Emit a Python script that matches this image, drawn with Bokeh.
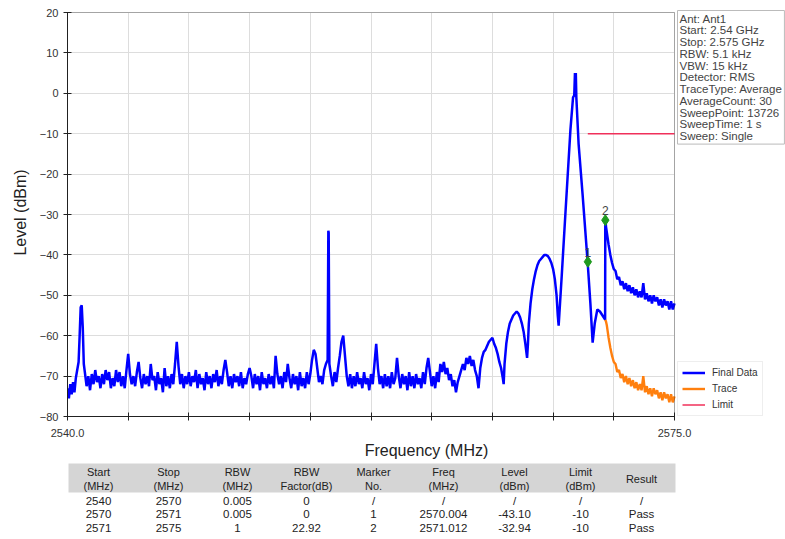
from bokeh.plotting import figure
from bokeh.models import (Range1d, FixedTicker, Legend, LegendItem, Label, PrintfTickFormatter,
                          BoxAnnotation)
from bokeh.layouts import column
from bokeh.embed import file_html
from bokeh.resources import INLINE
from bokeh.core.properties import value

# ---------------- data ----------------
final_freq = [
    2540.00, 2540.08, 2540.16, 2540.24, 2540.32, 2540.40, 2540.48, 2540.56, 2540.64, 2540.70, 2540.76, 2540.82, 2540.88, 2540.94,
    2541.0, 2541.1, 2541.2, 2541.3, 2541.4, 2541.5, 2541.6, 2541.7, 2541.8, 2541.9,
    2542.0, 2542.1, 2542.2, 2542.3, 2542.4, 2542.5, 2542.6, 2542.7, 2542.8, 2542.9,
    2543.0, 2543.1, 2543.2, 2543.3, 2543.4, 2543.5, 2543.6, 2543.7, 2543.8, 2543.9,
    2544.0, 2544.1, 2544.2, 2544.3, 2544.4, 2544.5, 2544.6, 2544.7, 2544.8, 2544.9,
    2545.0, 2545.1, 2545.2, 2545.3, 2545.4, 2545.5, 2545.6, 2545.7, 2545.8, 2545.9,
    2546.0, 2546.1, 2546.2, 2546.3, 2546.4, 2546.5, 2546.6, 2546.7, 2546.8, 2546.9,
    2547.0, 2547.1, 2547.2, 2547.3, 2547.4, 2547.5, 2547.6, 2547.7, 2547.8, 2547.9,
    2548.0, 2548.1, 2548.2, 2548.3, 2548.4, 2548.5, 2548.6, 2548.7, 2548.8, 2548.9,
    2549.0, 2549.1, 2549.2, 2549.3, 2549.4, 2549.5, 2549.6, 2549.7, 2549.8, 2549.9,
    2550.0, 2550.1, 2550.2, 2550.3, 2550.4, 2550.5, 2550.6, 2550.7, 2550.8, 2550.9,
    2551.0, 2551.1, 2551.2, 2551.3, 2551.4, 2551.5, 2551.6, 2551.7, 2551.8, 2551.9,
    2552.0, 2552.1, 2552.2, 2552.3, 2552.4, 2552.5, 2552.6, 2552.7, 2552.8, 2552.9,
    2553.0, 2553.1, 2553.2, 2553.3, 2553.4, 2553.5, 2553.6, 2553.7, 2553.8, 2553.9,
    2554.0, 2554.1, 2554.2, 2554.3, 2554.4, 2554.5, 2554.6, 2554.7, 2554.8, 2554.9,
    2555.0, 2555.04, 2555.06, 2555.1, 2555.2, 2555.3, 2555.4, 2555.5, 2555.6, 2555.7, 2555.8, 2555.9,
    2556.0, 2556.1, 2556.2, 2556.3, 2556.4, 2556.5, 2556.6, 2556.7, 2556.8, 2556.9,
    2557.0, 2557.1, 2557.2, 2557.3, 2557.4, 2557.5, 2557.6, 2557.7, 2557.8, 2557.9,
    2558.0, 2558.1, 2558.2, 2558.3, 2558.4, 2558.5, 2558.6, 2558.7, 2558.8, 2558.9,
    2559.0, 2559.1, 2559.2, 2559.3, 2559.4, 2559.5, 2559.6, 2559.7, 2559.8, 2559.9,
    2560.0, 2560.1, 2560.2, 2560.3, 2560.4, 2560.5, 2560.6, 2560.7, 2560.8, 2560.9,
    2561.0, 2561.1, 2561.2, 2561.3, 2561.4, 2561.5, 2561.6, 2561.7, 2561.8, 2561.9,
    2562.0, 2562.1, 2562.2, 2562.3, 2562.4, 2562.5, 2562.6, 2562.7, 2562.8, 2562.9,
    2563.0, 2563.1, 2563.2, 2563.3, 2563.4, 2563.5, 2563.6, 2563.7, 2563.8, 2563.9,
    2564.0, 2564.1, 2564.2, 2564.3, 2564.4, 2564.5, 2564.6, 2564.7, 2564.8, 2564.9,
    2565.0, 2565.1, 2565.15, 2565.2, 2565.3, 2565.4, 2565.5, 2565.6, 2565.7, 2565.8, 2565.9,
    2566.0, 2566.1, 2566.2, 2566.3, 2566.4, 2566.5, 2566.55, 2566.6, 2566.7, 2566.8, 2566.9,
    2567.0, 2567.1, 2567.2, 2567.3, 2567.4, 2567.5, 2567.6, 2567.7, 2567.8, 2567.9,
    2568.0, 2568.1, 2568.2, 2568.27, 2568.32, 2568.5, 2568.72, 2569.0, 2569.15, 2569.22, 2569.26, 2569.29, 2569.31, 2569.34,
    2569.47, 2569.7, 2569.99, 2570.15, 2570.28, 2570.4, 2570.55, 2570.7, 2570.85, 2571.0,
    2571.01, 2571.05, 2571.1, 2571.15, 2571.2, 2571.3, 2571.4, 2571.5, 2571.6, 2571.7, 2571.8, 2571.9,
    2572.0, 2572.1, 2572.2, 2572.3, 2572.4, 2572.5, 2572.6, 2572.7, 2572.8, 2572.9,
    2573.0, 2573.1, 2573.2, 2573.3, 2573.4, 2573.5, 2573.6, 2573.7, 2573.8, 2573.9,
    2574.0, 2574.1, 2574.2, 2574.3, 2574.4, 2574.5, 2574.6, 2574.7, 2574.8, 2574.9, 2575.0,
]
final_level = [
    -73, -75.5, -72, -74.5, -71.5, -74, -70.5, -68.5, -66.5, -60, -53, -52.5, -58, -67,
    -69, -72.5, -70, -73.5, -69.5, -72, -68.5, -71.5, -70, -73,
    -69.5, -72, -68.5, -71, -69, -73, -70.5, -72.5, -68.5, -71.5,
    -69, -72.5, -70, -73, -68.5, -64.5, -69.5, -72, -70, -72.5,
    -69, -66.5, -70.5, -73, -69.5, -72, -70, -72.5, -67, -71,
    -70, -73.5, -69, -72, -70.5, -74, -68, -72.5, -70, -73,
    -69.5, -72, -67, -61.5, -67.5, -72, -69.5, -73, -70, -72,
    -69, -72.5, -70, -71.5, -68.5, -73, -69.5, -72, -70.5, -73.5,
    -69, -72, -70, -73, -69.5, -71.5, -68.5, -72.5, -70, -72,
    -68.5, -66, -69, -72.5, -70, -73, -69.5, -71.5, -70, -72.5,
    -69, -73, -70.5, -72, -69.5, -68, -70, -73, -69.5, -72,
    -70, -73.5, -69, -72, -70.5, -73, -69.5, -72, -70, -73,
    -65, -69.5, -72, -70, -73, -69, -71.5, -67, -70.5, -73,
    -69.5, -72, -70, -73.5, -69, -72.5, -70.5, -73, -69, -72,
    -69.5, -66, -63.5, -64.5, -68, -71.5, -70, -72, -68.5, -67,
    -66, -34, -34.5, -67, -70, -72.5, -69, -71.5, -68, -65, -61.5, -60,
    -65, -70, -72.5, -69.5, -73, -70, -72.5, -69, -72, -70.5,
    -73, -69, -72, -70.5, -73.5, -69.5, -72, -67, -62, -68,
    -72, -70, -73, -69.5, -72.5, -70, -73, -69, -72, -70.5,
    -65.5, -70, -73, -69.5, -72, -70, -73.5, -69, -72.5, -70,
    -73, -69.5, -72, -70.5, -73, -69, -72, -68, -65.5, -69,
    -72.5, -70, -73, -69, -71.5, -67, -69, -66.5, -69.5, -68,
    -71, -69.5, -72.5, -71, -74, -71.5, -70, -68.5, -67, -68.5,
    -65.5, -67, -65, -67.5, -66, -68.5, -70, -73, -68, -65.5,
    -64, -63.5, -62.5, -61.5, -61, -60.5, -62, -63, -64.5, -66.5,
    -68, -70.5, -72, -67, -62, -59, -57, -56, -55, -54.5, -54,
    -54.5, -55.5, -57, -59, -62, -65.5, -62, -57, -52, -48.5, -46,
    -44, -42.5, -41.5, -41, -40.5, -40, -40, -40.3, -41, -42,
    -43.5, -46, -50, -55, -57.5, -45, -29, -9, -1, -0.5, 5, 2, 5, -1,
    -12.5, -25, -41.7, -52, -61.7, -57, -53.5, -54, -55, -56,
    -30.8, -33, -34.5, -36, -37.5, -40, -42, -43.5, -44, -46, -45.5, -47.5,
    -46.5, -48.5, -47, -49, -47.5, -49.5, -48, -50, -48.5, -50.5,
    -49, -50.5, -47, -51, -49.5, -51.5, -50, -52, -50, -51.5,
    -50.5, -52.5, -51, -53, -51, -52.5, -51.5, -53.5, -51.5, -53.5, -52,
]

trace_freq = [
    2571.0, 2571.05, 2571.1, 2571.15, 2571.2, 2571.3, 2571.4, 2571.5, 2571.6, 2571.7, 2571.8, 2571.9,
    2572.0, 2572.1, 2572.2, 2572.3, 2572.4, 2572.5, 2572.6, 2572.7, 2572.8, 2572.9,
    2573.0, 2573.1, 2573.2, 2573.3, 2573.4, 2573.5, 2573.6, 2573.7, 2573.8, 2573.9,
    2574.0, 2574.1, 2574.2, 2574.3, 2574.4, 2574.5, 2574.6, 2574.7, 2574.8, 2574.9, 2575.0,
]
trace_level = [
    -56, -56.5, -57.5, -59, -60.5, -63, -65, -66.5, -67, -69, -68.5, -70.5,
    -69.5, -71.5, -70, -72, -70.5, -72.5, -71, -73, -71.5, -73.5,
    -72, -73.5, -70, -74, -72.5, -74.5, -73, -75, -73, -74.5,
    -73.5, -75.5, -74, -76, -74, -75.5, -74.5, -76.5, -74.5, -76.5, -75,
]

limit_freq = [2570.0, 2575.0]
limit_level = [-10, -10]

marker_no = ["1", "2"]
marker_freq = [2570.004, 2571.012]
marker_level = [-41.7, -31.4]

x_start, x_stop = 2540.0, 2575.0
y_bottom, y_top = -80, 20
y_ticks = [-80, -70, -60, -50, -40, -30, -20, -10, 0, 10, 20]
x_major_ticks = [2540.0, 2575.0]
x_minor_ticks = [2543.5, 2547.0, 2550.5, 2554.0, 2557.5, 2561.0, 2564.5, 2568.0, 2571.5]

info_lines = ["Ant: Ant1", "Start: 2.54 GHz", "Stop: 2.575 GHz", "RBW: 5.1 kHz", "VBW: 15 kHz",
              "Detector: RMS", "TraceType: Average", "AverageCount: 30", "SweepPoint: 13726",
              "SweepTime: 1 s", "Sweep: Single"]

legend_labels = ["Final Data", "Trace", "Limit"]

table_head_1 = ["Start", "Stop", "RBW", "RBW", "Marker", "Freq", "Level", "Limit", "Result"]
table_head_2 = ["(MHz)", "(MHz)", "(MHz)", "Factor(dB)", "No.", "(MHz)", "(dBm)", "(dBm)", ""]
table_rows = [
    ["2540", "2570", "0.005", "0", "/", "/", "/", "/", "/"],
    ["2570", "2571", "0.005", "0", "1", "2570.004", "-43.10", "-10", "Pass"],
    ["2571", "2575", "1", "22.92", "2", "2571.012", "-32.94", "-10", "Pass"],
]

FONT = "Liberation Sans"
BLUE = "#0000ff"
ORANGE = "#ff7f0e"
RED = "#f0305a"
DARK = "#222222"

# ---------------- main plot ----------------
W = 785
H_MAIN = 462
FRAME_L, FRAME_T, FRAME_B = 67, 8, 46
PX_PER_MHZ = (674 - 67) / (x_stop - x_start)
PX_PER_DB = (416 - 12) / (y_top - y_bottom)
frame_w = W - FRAME_L
frame_h = H_MAIN - FRAME_T - FRAME_B
x_end = x_start + frame_w / PX_PER_MHZ
y_end = y_bottom + frame_h / PX_PER_DB

p = figure(width=W, height=H_MAIN, output_backend="svg", toolbar_location=None,
           x_range=Range1d(x_start, x_end), y_range=Range1d(y_bottom, y_end),
           min_border_left=FRAME_L, min_border_right=0, min_border_top=FRAME_T,
           min_border_bottom=FRAME_B)
p.background_fill_color = "white"
p.border_fill_color = "white"
p.outline_line_color = None

p.xaxis.ticker = FixedTicker(ticks=x_major_ticks, minor_ticks=x_minor_ticks)
p.xaxis.formatter = PrintfTickFormatter(format="%.1f")
p.xaxis.bounds = (x_start, x_stop)
p.yaxis.ticker = FixedTicker(ticks=y_ticks)
p.yaxis.bounds = (y_bottom, y_top)
for ax in (p.xaxis, p.yaxis):
    ax.major_tick_in = 4
    ax.major_tick_out = 4
    ax.minor_tick_in = 4
    ax.minor_tick_out = 4
    ax.axis_line_color = DARK
    ax.major_tick_line_color = DARK
    ax.minor_tick_line_color = DARK
    ax.major_label_text_font = FONT
    ax.major_label_text_font_size = "11px"
    ax.major_label_text_color = "#333333"
    ax.axis_label_text_font = FONT
    ax.axis_label_text_font_size = "16px"
    ax.axis_label_text_font_style = "normal"
    ax.axis_label_text_color = DARK
p.xaxis.axis_label = "Frequency (MHz)"
p.yaxis.axis_label = "Level (dBm)"
p.xaxis.major_label_standoff = 8
p.xaxis.axis_label_standoff = 2
p.yaxis.major_label_standoff = 5
p.yaxis.axis_label_standoff = 8

p.xgrid.ticker = FixedTicker(ticks=x_major_ticks, minor_ticks=x_minor_ticks)
p.xgrid.grid_line_color = "#dddddd"
p.xgrid.minor_grid_line_color = "#dddddd"
p.xgrid.cross_bounds = (y_bottom, y_top)
p.ygrid.grid_line_color = "#dddddd"
p.ygrid.cross_bounds = (x_start, x_stop)

# frame box (top and right edges)
p.add_layout(BoxAnnotation(left=x_start, right=x_stop, bottom=y_bottom, top=y_top,
                           fill_alpha=0, line_color=DARK, line_width=1))

r_trace = p.line(trace_freq, trace_level, line_color=ORANGE, line_width=2.4)
r_final = p.line(final_freq, final_level, line_color=BLUE, line_width=2.5)
r_limit = p.line(limit_freq, limit_level, line_color=RED, line_width=1.5)

p.scatter(marker_freq, marker_level, marker="diamond", size=11, fill_color="#1e9a1e",
          line_color="#1e9a1e")
p.text(marker_freq, marker_level, text=marker_no, text_align="center", text_baseline="bottom",
       y_offset=-5, text_font=value(FONT), text_font_size="12px", text_color="#444444")

legend = Legend(items=[LegendItem(label=legend_labels[0], renderers=[r_final]),
                       LegendItem(label=legend_labels[1], renderers=[r_trace]),
                       LegendItem(label=legend_labels[2], renderers=[r_limit])],
                location=(610, 0), orientation="vertical",
                label_text_font=FONT, label_text_font_size="10px", label_text_color="#333333",
                glyph_width=23, glyph_height=13, label_height=13, label_standoff=7,
                spacing=3, padding=4, margin=0,
                border_line_color="#dddddd", background_fill_color="white", background_fill_alpha=1)
p.add_layout(legend)

info_x = x_start + (677 - 67) / PX_PER_MHZ
info_y = y_top + 2 / PX_PER_DB
info = Label(x=info_x, y=info_y, x_units="data", y_units="data", text="\n".join(info_lines),
             text_font=FONT, text_font_size="11.5px", text_color="#444444",
             text_align="left", text_baseline="top", text_line_height=0.98,
             background_fill_color="white", border_line_color="#bbbbbb", padding=2)
p.add_layout(info)

# ---------------- table ----------------
H_TAB = 539 - H_MAIN
t = figure(width=W, height=H_TAB, output_backend="svg", toolbar_location=None,
           x_range=Range1d(FRAME_L, W), y_range=Range1d(H_TAB, 0),
           min_border=0, min_border_left=FRAME_L, min_border_right=0, min_border_top=0,
           min_border_bottom=0)
t.axis.visible = False
t.grid.visible = False
t.outline_line_color = None
t.background_fill_color = "white"
t.border_fill_color = "white"

tab_left, tab_right = 68, 675
col_centers = [98, 168, 237, 306, 373, 443, 514, 580, 641]
t.quad(left=[tab_left], right=[tab_right], top=[1], bottom=[30], fill_color="#d5d5d5", line_color=None)

head_x, head_y, head_txt = [], [], []
for i in range(len(table_head_1)):
    if table_head_2[i]:
        head_x += [col_centers[i], col_centers[i]]
        head_y += [9.7, 23]
        head_txt += [table_head_1[i], table_head_2[i]]
    else:
        head_x.append(col_centers[i])
        head_y.append(16.5)
        head_txt.append(table_head_1[i])
t.text(head_x, head_y, text=head_txt, text_align="center", text_baseline="middle",
       text_font=value(FONT), text_font_size="11px", text_color=DARK)

row_x, row_y, row_txt = [], [], []
for r, row in enumerate(table_rows):
    for i, cell in enumerate(row):
        row_x.append(col_centers[i])
        row_y.append(38 + 13.6 * r)
        row_txt.append(cell)
t.text(row_x, row_y, text=row_txt, text_align="center", text_baseline="middle",
       text_font=value(FONT), text_font_size="11.5px", text_color=DARK)

layout = column(p, t, spacing=0)
open("out.html", "w").write(file_html(layout, INLINE))
